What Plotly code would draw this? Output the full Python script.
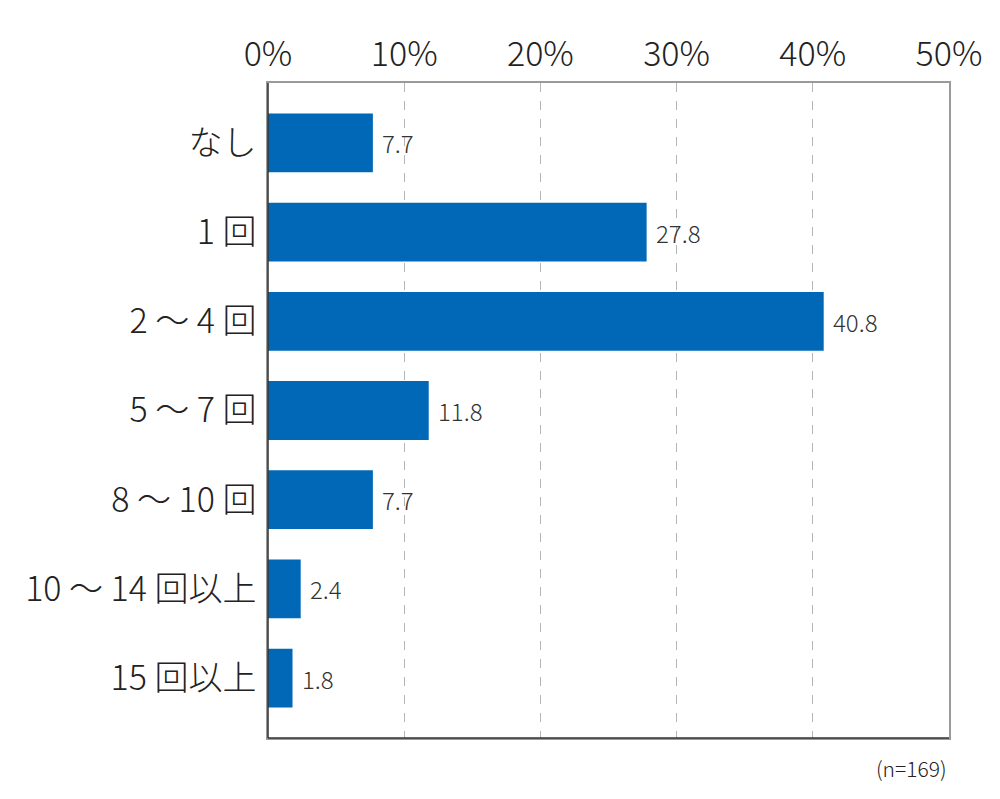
import plotly.graph_objects as go

categories = ["なし", "1 回", "2 ～ 4 回", "5 ～ 7 回", "8 ～ 10 回", "10 ～ 14 回以上", "15 回以上"]
values = [7.7, 27.8, 40.8, 11.8, 7.7, 2.4, 1.8]
x_ticks = [0, 10, 20, 30, 40, 50]
x_tick_labels = ["0%", "10%", "20%", "30%", "40%", "50%"]
n_note = "(n=169)"

jp_font = "Noto Sans CJK JP"
bar_color = "#0068b7"

fig = go.Figure()
fig.add_trace(go.Bar(
    x=values, y=categories, orientation="h",
    marker=dict(color=bar_color, line=dict(width=0)),
    width=0.66, hoverinfo="skip",
))

# value labels to the right of each bar
for c, v in zip(categories, values):
    fig.add_annotation(x=v, y=c, text=f"{v:.1f}", showarrow=False,
                       xanchor="left", xshift=7,
                       font=dict(family=jp_font, size=24, color="#333333", weight=300))

fig.add_annotation(x=1, y=-0.02, xref="paper", yref="paper", text=n_note,
                   showarrow=False, xanchor="right", yanchor="top",
                   font=dict(family=jp_font, size=21, color="#222222", weight=300))

# darker left and bottom frame lines
fig.add_shape(type="line", xref="paper", yref="paper", x0=0, x1=0, y0=0, y1=1,
              line=dict(color="#333333", width=1.5))
fig.add_shape(type="line", xref="paper", yref="paper", x0=0, x1=1, y0=0, y1=0,
              line=dict(color="#333333", width=1.5))

fig.update_xaxes(
    side="top", range=[0, 50], tickvals=x_ticks, ticktext=x_tick_labels,
    showgrid=True, gridcolor="#b5b5b5", griddash="dash", gridwidth=1,
    showline=True, linecolor="#9a9a9a", linewidth=1.5, mirror=True,
    zeroline=False, ticks="", ticklabelstandoff=2,
    tickfont=dict(family=jp_font, size=34, color="#222222", weight=300),
)
fig.update_yaxes(
    range=[6.672, -0.672], showgrid=False, zeroline=False,
    showline=True, linecolor="#9a9a9a", linewidth=1.5, mirror=True,
    ticks="", ticklabelstandoff=3,
    tickfont=dict(family=jp_font, size=34, color="#222222", weight=300),
)

# page body has an 8px margin, so size the figure to land the frame in place
fig.update_layout(
    width=992, height=791,
    margin=dict(l=260, r=51, t=75, b=61),
    plot_bgcolor="white", paper_bgcolor="white",
    showlegend=False, bargap=0.34,
)

fig.write_html("out.html")
